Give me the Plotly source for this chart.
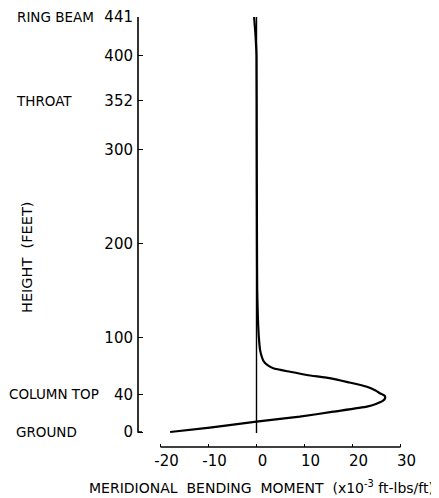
import plotly.graph_objects as go

# ---- data ----
height_ft = [441, 425, 410, 400, 300, 200, 150, 120, 100, 87, 80, 75, 71, 67.7, 64, 60.6,
             57, 53, 48, 44, 41, 38.5, 36, 33, 30, 26.9, 21.6, 16.3, 11, 4.6, 0]
moment = [-0.5, -0.25, -0.08, 0, 0.05, 0.1, 0.15, 0.3, 0.5, 0.75, 1.1, 1.5, 2.3, 3.5, 7, 10.5,
          15.5, 19, 23, 24.8, 25.8, 26.7, 26.8, 26.3, 25, 23, 16, 9, 0, -9.7, -18]

x_tickvals = [-20, -10, 0, 10, 20, 30]
x_ticktext = ["-20", "-10", "0", "10", "20", "30"]
y_tickvals = [0, 40, 100, 200, 300, 352, 400, 441]
y_ticktext = ["0", "40", "100", "200", "300", "352", "400", "441"]
level_names = ["RING BEAM", "THROAT", "COLUMN TOP", "GROUND"]
level_heights = [441, 352, 40, 0]

# ---- layout geometry (window pixels; page body has an 8px margin) ----
OFF = 8
WIN_W, WIN_H = 439, 498
W, H = WIN_W - OFF, WIN_H - OFF
PL, PR, PT, PB = 138, 420, 17, 447          # plot box in window pixels
L, T = PL - OFF, PT - OFF
R, B = W - (PR - OFF), H - (PB - OFF)
plot_w = PR - PL
plot_h = PB - PT
x_range = [(PL - 256.5) / 4.8, (PR - 256.5) / 4.8]
y_range = [-(PB - 432) / (415 / 441), 441]


def px_to_paper_x(px):
    return (px - PL) / plot_w


def px_to_paper_y(py):
    return (PB - py) / plot_h


FONT = "DejaVu Sans"

fig = go.Figure()
fig.add_trace(go.Scatter(x=moment, y=height_ft, mode="lines",
                         line=dict(color="black", width=2.2, shape="spline", smoothing=0.5),
                         hoverinfo="skip", showlegend=False, cliponaxis=False))

shapes = [
    dict(type="line", xref="x", yref="y", x0=0, x1=0, y0=-1, y1=441,
         line=dict(color="black", width=1.4)),
    dict(type="line", xref="x", yref="paper", x0=-20, x1=30, y0=0, y1=0,
         line=dict(color="black", width=1.6)),
    dict(type="path", xref="paper", yref="y",
         path=f"M 0 441 L 0 0 L {4/plot_w} 0",
         line=dict(color="black", width=1.6)),
]

annotations = []
right_px = {"RING BEAM": 96, "THROAT": 74, "COLUMN TOP": 101, "GROUND": 79}
for name, h in zip(level_names, level_heights):
    annotations.append(dict(text=name, xref="paper", yref="y",
                            x=px_to_paper_x(right_px[name]), y=h,
                            xanchor="right", yanchor="middle", showarrow=False,
                            font=dict(family=FONT, size=13.5, color="black")))
annotations.append(dict(text="HEIGHT  (FEET)", xref="paper", yref="paper",
                        x=px_to_paper_x(27), y=px_to_paper_y(258),
                        textangle=-90, showarrow=False, xanchor="center", yanchor="middle",
                        font=dict(family=FONT, size=14.5, color="black")))
annotations.append(dict(text="MERIDIONAL  BENDING  MOMENT  (x10<sup>-3</sup> ft-lbs/ft)",
                        xref="paper", yref="paper",
                        x=px_to_paper_x(261), y=px_to_paper_y(487),
                        showarrow=False, xanchor="center", yanchor="middle",
                        font=dict(family=FONT, size=14, color="black")))

fig.update_layout(
    width=W, height=H,
    margin=dict(l=L, r=R, t=T, b=B, autoexpand=False),
    paper_bgcolor="white", plot_bgcolor="white",
    showlegend=False,
    shapes=shapes, annotations=annotations,
    xaxis=dict(range=x_range, showgrid=False, zeroline=False, showline=False,
               automargin=False,
               tickvals=x_tickvals, ticktext=x_ticktext,
               ticks="inside", ticklen=3, tickwidth=1.4, tickcolor="black",
               ticklabelshift=6, ticklabelstandoff=3,
               tickfont=dict(family=FONT, size=15, color="black")),
    yaxis=dict(range=y_range, showgrid=False, zeroline=False, showline=False,
               automargin=False,
               tickvals=y_tickvals, ticktext=y_ticktext,
               ticks="inside", ticklen=5, tickwidth=1.4, tickcolor="black",
               ticklabelstandoff=4,
               tickfont=dict(family=FONT, size=15, color="black")),
)

fig.write_html("out.html")
